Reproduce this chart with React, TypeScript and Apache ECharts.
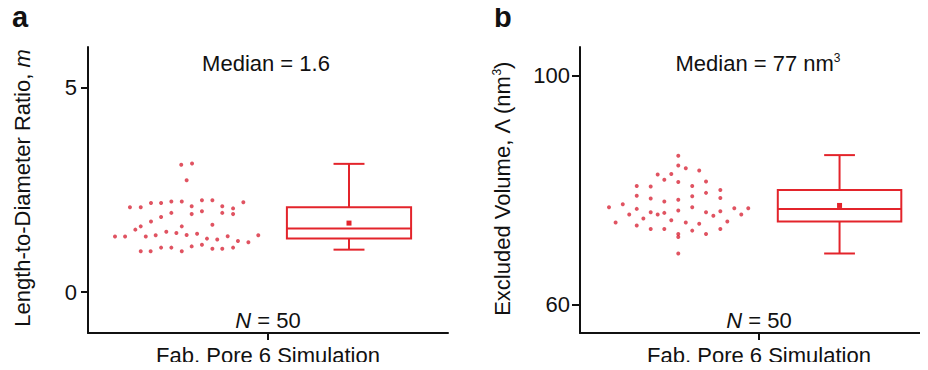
import React, { useEffect, useRef } from "react";
import * as echarts from "echarts";

// ---------- data ----------
const categoryName = "Fab, Pore 6 Simulation";

// Panel a: length-to-diameter ratio, m
const ratioValues = [
  3.12, 3.15, 2.74, 2.08, 2.08, 2.18, 2.18, 2.22, 2.22, 2.25,
  2.25, 2.1, 2.1, 2.05, 2.2, 1.91, 1.98, 1.94, 1.91, 1.84,
  1.94, 1.73, 1.53, 1.61, 1.61, 1.65, 1.36, 1.36, 1.36, 1.39,
  1.48, 1.45, 1.4, 1.43, 1.31, 1.29, 1.37, 1.25, 1.22, 1.39,
  1.0, 1.0, 1.09, 1.09, 1.0, 1.12, 1.16, 1.06, 1.06, 1.09,
];
// horizontal spread of each dot (x-axis units, category spans 0..2)
const ratioSpread = [
  0.518, 0.578, 0.548, 0.233, 0.293, 0.35, 0.406, 0.463, 0.521, 0.633,
  0.691, 0.576, 0.746, 0.806, 0.863, 0.576, 0.633, 0.746, 0.806, 0.406,
  0.463, 0.35, 0.263, 0.293, 0.521, 0.691, 0.15, 0.206, 0.321, 0.376,
  0.435, 0.491, 0.548, 0.606, 0.661, 0.718, 0.776, 0.833, 0.891, 0.946,
  0.293, 0.348, 0.406, 0.463, 0.521, 0.576, 0.633, 0.691, 0.746, 0.806,
];
// [min, Q1, median, Q3, max, mean]
const ratioBox = [1.04, 1.31, 1.56, 2.08, 3.14, 1.69];

// Panel b: excluded volume (nm^3)
const volumeValues = [
  86.0, 84.3, 83.8, 83.4, 82.7, 82.8, 81.8, 81.4, 81.5, 80.7,
  80.6, 80.7, 80.0, 79.5, 79.0, 78.9, 78.6, 78.5, 78.3, 78.0,
  77.0, 77.5, 76.7, 77.0, 76.4, 76.8, 76.8, 76.1, 76.0, 75.7,
  76.1, 75.5, 76.3, 75.7, 75.7, 75.0, 74.7, 74.3, 73.8, 74.3,
  74.1, 74.5, 73.2, 73.2, 72.9, 73.2, 72.3, 72.3, 71.8, 68.9,
];
const volumeSpread = [
  0.549, 0.549, 0.591, 0.666, 0.434, 0.51, 0.471, 0.549, 0.704, 0.317,
  0.395, 0.627, 0.784, 0.704, 0.317, 0.627, 0.784, 0.395, 0.549, 0.471,
  0.162, 0.239, 0.317, 0.627, 0.549, 0.862, 0.94, 0.395, 0.471, 0.434,
  0.704, 0.745, 0.784, 0.275, 0.901, 0.354, 0.51, 0.199, 0.317, 0.591,
  0.666, 0.823, 0.395, 0.471, 0.627, 0.784, 0.704, 0.549, 0.549, 0.549,
];
const volumeBox = [68.9, 74.5, 76.7, 80.0, 86.1, 77.3];

const boxCenter = 1.45;
const ratioTicks = [0, 5];
const volumeTicks = [60, 100];
const volumeMinorTicks = [80];

// ---------- style ----------
const FONT = "'Liberation Sans', Arial, Helvetica, sans-serif";
const DOT = "#d8283a";
const BOX = "#e3242b";
const INK = "#111";
const BOX_HALF = 0.345;
const CAP_HALF = 0.086;

function boxRender(params: any, api: any) {
  const cx = api.value(0);
  const mn = api.value(1);
  const q1 = api.value(2);
  const md = api.value(3);
  const q3 = api.value(4);
  const mx = api.value(5);
  const mean = api.value(6);
  const p = (x: number, y: number) => api.coord([x, y]);
  const tl = p(cx - BOX_HALF, q3);
  const br = p(cx + BOX_HALF, q1);
  const ls = { stroke: BOX, lineWidth: 2, fill: null };
  const line = (a: number[], b: number[]) => ({
    type: "line",
    shape: { x1: a[0], y1: a[1], x2: b[0], y2: b[1] },
    style: ls,
  });
  const m = p(cx, mean);
  return {
    type: "group",
    children: [
      {
        type: "rect",
        shape: { x: tl[0], y: tl[1], width: br[0] - tl[0], height: br[1] - tl[1] },
        style: { stroke: BOX, lineWidth: 2, fill: "none" },
      },
      line(p(cx - BOX_HALF, md), p(cx + BOX_HALF, md)),
      line(p(cx, q3), p(cx, mx)),
      line(p(cx - CAP_HALF, mx), p(cx + CAP_HALF, mx)),
      line(p(cx, q1), p(cx, mn)),
      line(p(cx - CAP_HALF, mn), p(cx + CAP_HALF, mn)),
      {
        type: "rect",
        shape: { x: m[0] - 2.5, y: m[1] - 2.5, width: 5, height: 5 },
        style: { fill: BOX, stroke: null },
      },
    ],
  };
}

const axisLineStyle = { color: INK, width: 2 };

function xAxisFor(gridIndex: number) {
  return {
    type: "value",
    gridIndex,
    min: 0,
    max: 2,
    axisLine: { show: true, onZero: false, lineStyle: axisLineStyle },
    axisTick: {
      show: true,
      customValues: [1],
      length: 7,
      inside: false,
      lineStyle: axisLineStyle,
    },
    axisLabel: {
      show: true,
      customValues: [1],
      formatter: (v: number) => (v === 1 ? categoryName : ""),
      fontSize: 22,
      fontFamily: FONT,
      color: INK,
      margin: 11,
    },
    splitLine: { show: false },
  };
}

export default function App() {
  const ref = useRef<HTMLDivElement>(null);

  useEffect(() => {
    if (!ref.current) return;
    const chart = echarts.init(ref.current, undefined, { renderer: "svg" });

    const ratioPoints = ratioValues.map((v, i) => [ratioSpread[i], v]);
    const volumePoints = volumeValues.map((v, i) => [volumeSpread[i], v]);

    const option: any = {
      animation: false,
      backgroundColor: "#fff",
      grid: [
        { left: 88, top: 47, width: 360, height: 286, outerBoundsMode: "none", containLabel: false },
        { left: 580, top: 47, width: 358, height: 286, outerBoundsMode: "none", containLabel: false },
      ],
      xAxis: [xAxisFor(0), xAxisFor(1)],
      yAxis: [
        {
          type: "value",
          gridIndex: 0,
          min: -1,
          max: 6,
          axisLine: { show: true, onZero: false, lineStyle: axisLineStyle },
          axisTick: { show: true, customValues: ratioTicks, length: 7, lineStyle: axisLineStyle },
          axisLabel: {
            customValues: ratioTicks,
            fontSize: 22,
            fontFamily: FONT,
            color: INK,
            margin: 11,
          },
          splitLine: { show: false },
        },
        {
          type: "value",
          gridIndex: 1,
          min: 55,
          max: 105,
          axisLine: { show: true, onZero: false, lineStyle: axisLineStyle },
          axisTick: { show: true, customValues: volumeTicks, length: 8, lineStyle: axisLineStyle },
          axisLabel: {
            customValues: volumeTicks,
            fontSize: 22,
            fontFamily: FONT,
            color: INK,
            margin: 10,
          },
          splitLine: { show: false },
        },
        {
          type: "value",
          gridIndex: 1,
          min: 55,
          max: 105,
          axisLine: { show: false, onZero: false },
          axisTick: { show: true, customValues: volumeMinorTicks, length: 5, lineStyle: axisLineStyle },
          axisLabel: { show: false },
          splitLine: { show: false },
        },
      ],
      series: [
        {
          type: "scatter",
          xAxisIndex: 0,
          yAxisIndex: 0,
          symbol: "circle",
          symbolSize: 4,
          itemStyle: { color: DOT },
          data: ratioPoints,
        },
        {
          type: "custom",
          xAxisIndex: 0,
          yAxisIndex: 0,
          renderItem: boxRender,
          encode: { x: 0, y: [1, 2, 3, 4, 5, 6] },
          data: [[boxCenter, ...ratioBox]],
        },
        {
          type: "scatter",
          xAxisIndex: 1,
          yAxisIndex: 1,
          symbol: "circle",
          symbolSize: 4,
          itemStyle: { color: DOT },
          data: volumePoints,
        },
        {
          type: "custom",
          xAxisIndex: 1,
          yAxisIndex: 1,
          renderItem: boxRender,
          encode: { x: 0, y: [1, 2, 3, 4, 5, 6] },
          data: [[boxCenter, ...volumeBox]],
        },
      ],
      graphic: [
        {
          type: "text",
          left: 12,
          top: 2,
          style: { text: "a", font: `bold 29px ${FONT}`, fill: INK },
        },
        {
          type: "text",
          left: 494,
          top: 2,
          style: { text: "b", font: `bold 29px ${FONT}`, fill: INK },
        },
        {
          type: "text",
          x: 266,
          y: 63,
          style: {
            text: "Median = 1.6",
            font: `22px ${FONT}`,
            fill: INK,
            align: "center",
            verticalAlign: "middle",
          },
        },
        {
          type: "text",
          x: 758,
          y: 63,
          style: {
            text: "{t|Median = 77 nm}{s|3}",
            align: "center",
            verticalAlign: "middle",
            rich: {
              t: { fontSize: 22, fontFamily: FONT, fill: INK },
              s: { fontSize: 12, fontFamily: FONT, fill: INK, verticalAlign: "top" },
            },
          },
        },
        {
          type: "text",
          x: 268,
          y: 320,
          style: {
            text: "{i|N}{t| = 50}",
            align: "center",
            verticalAlign: "middle",
            rich: {
              i: { fontSize: 22, fontFamily: FONT, fontStyle: "italic", fill: INK },
              t: { fontSize: 22, fontFamily: FONT, fill: INK },
            },
          },
        },
        {
          type: "text",
          x: 759,
          y: 320,
          style: {
            text: "{i|N}{t| = 50}",
            align: "center",
            verticalAlign: "middle",
            rich: {
              i: { fontSize: 22, fontFamily: FONT, fontStyle: "italic", fill: INK },
              t: { fontSize: 22, fontFamily: FONT, fill: INK },
            },
          },
        },
        {
          type: "text",
          x: 22,
          y: 188,
          rotation: Math.PI / 2,
          style: {
            text: "{t|Length-to-Diameter Ratio, }{i|m}",
            align: "center",
            verticalAlign: "middle",
            rich: {
              t: { fontSize: 22, fontFamily: FONT, fill: INK },
              i: { fontSize: 22, fontFamily: FONT, fontStyle: "italic", fill: INK },
            },
          },
        },
        {
          type: "text",
          x: 502,
          y: 189,
          rotation: Math.PI / 2,
          style: {
            text: "{t|Excluded Volume, Λ (nm}{s|3}{t|)}",
            align: "center",
            verticalAlign: "middle",
            rich: {
              t: { fontSize: 22, fontFamily: FONT, fill: INK },
              s: { fontSize: 12, fontFamily: FONT, fill: INK, verticalAlign: "top" },
            },
          },
        },
      ],
    };

    chart.setOption(option);
    return () => chart.dispose();
  }, []);

  return <div ref={ref} style={{ width: 928, height: 370, margin: -8 }} />;
}
